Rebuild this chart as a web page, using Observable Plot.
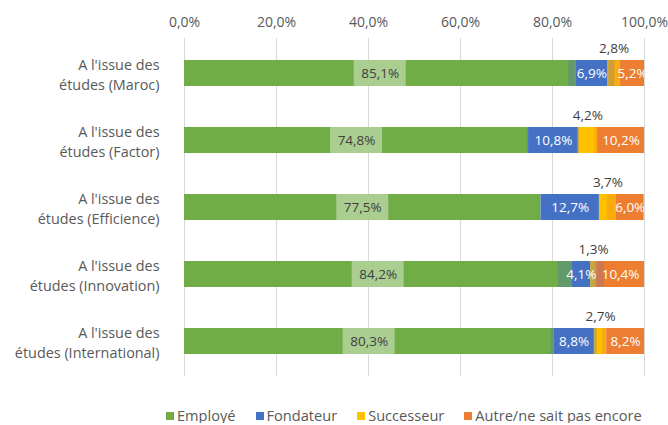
<!DOCTYPE html>
<html>
<head>
<meta charset="utf-8">
<script src="https://cdn.jsdelivr.net/npm/d3@7"></script>
<script src="https://cdn.jsdelivr.net/npm/@observablehq/plot@0.6"></script>
<style>
  body { margin: 0; background: #fff; font-family: "Open Sans", sans-serif; overflow: hidden; }
  #legend { display: flex; gap: 20px; margin-left: 166px; padding-top: 12px; font-size: 14.6px; color: #595959; line-height: 16px; height: 16px; }
  #legend span.sw { display: inline-block; width: 8px; height: 8px; margin-right: 3px; vertical-align: 1px; }
</style>
</head>
<body>
<div id="chart"></div>
<div id="legend"></div>
<script>
const categories = [
  "A l'issue des\nétudes (Maroc)",
  "A l'issue des\nétudes (Factor)",
  "A l'issue des\nétudes (Efficience)",
  "A l'issue des\nétudes (Innovation)",
  "A l'issue des\nétudes (International)"
];
const seriesNames = ["Employé", "Fondateur", "Successeur", "Autre/ne sait pas encore"];
const employe    = [85.1, 74.8, 77.5, 84.2, 80.3];
const fondateur  = [6.9, 10.8, 12.7, 4.1, 8.8];
const successeur = [2.8, 4.2, 3.7, 1.3, 2.7];
const autre      = [5.2, 10.2, 6.0, 10.4, 8.2];
const colors = ["#70ad47", "#4472c4", "#ffc000", "#ed7d31"];
const xTicks = [0, 20, 40, 60, 80, 100];

const fmt = v => v.toFixed(1).replace(".", ",") + "%";
const seriesValues = [employe, fondateur, successeur, autre];

// build stacked rows
const rows = [];
categories.forEach((cat, i) => {
  let acc = 0;
  seriesValues.forEach((vals, j) => {
    const v = vals[i];
    rows.push({cat, series: seriesNames[j], idx: j, value: v, x1: acc, x2: acc + v, mid: acc + v / 2, label: fmt(v)});
    acc += v;
  });
});

const W = 668, ML = 184, MR = 24;
const pxToData = 100 / (W - ML - MR);
const boxHalf = d => (11 + 3 * d.label.length) * pxToData;

const above = rows.filter(d => d.idx === 2);
const greenL = rows.filter(d => d.idx === 0);
const blueL = rows.filter(d => d.idx === 1);
const orangeL = rows.filter(d => d.idx === 3);

const chart = Plot.plot({
  width: W,
  height: 395,
  marginLeft: ML,
  marginRight: MR,
  marginTop: 38,
  marginBottom: 19,
  style: {fontFamily: "Open Sans, sans-serif", fontSize: "13px", color: "#595959", background: "#fff"},
  x: {domain: [0, 100]},
  y: {domain: categories, paddingInner: 0.61, paddingOuter: 0.295},
  color: {domain: seriesNames, range: colors},
  marks: [
    Plot.gridX(xTicks, {stroke: "#d9d9d9", strokeOpacity: 1, strokeWidth: 1}),
    Plot.axisX({anchor: "top", ticks: xTicks, tickFormat: fmt, tickSize: 0, tickPadding: 12, label: null, fontSize: 14, fill: "#595959"}),
    Plot.axisY({tickSize: 0, tickPadding: 25, label: null, fontSize: 14.4, lineHeight: 1.39, fill: "#595959"}),
    Plot.barX(rows, {x1: "x1", x2: "x2", y: "cat", fill: "series"}),
    // label boxes
    Plot.barX(greenL, {x1: d => d.mid - boxHalf(d), x2: d => d.mid + boxHalf(d), y: "cat", fill: "#ffffff", fillOpacity: 0.4}),
    Plot.barX(blueL, {x1: d => d.mid - boxHalf(d), x2: d => d.mid + boxHalf(d), y: "cat", fill: colors[1], fillOpacity: 0.3, clip: true}),
    Plot.barX(orangeL, {x1: d => d.mid - boxHalf(d), x2: d => d.mid + boxHalf(d), y: "cat", fill: colors[3], fillOpacity: 0.3, clip: true}),
    // labels
    Plot.text(greenL, {x: "mid", y: "cat", text: "label", fill: "#404040", fontSize: 13.5}),
    Plot.text(blueL, {x: "mid", y: "cat", text: "label", fill: "#ffffff", fontSize: 13.5, clip: true}),
    Plot.text(orangeL, {x: "mid", y: "cat", text: "label", fill: "#ffffff", fontSize: 13.5, clip: true}),
    Plot.text(above, {x: "mid", y: "cat", text: "label", fill: "#404040", fontSize: 13.5, dy: -25})
  ]
});
document.getElementById("chart").appendChild(chart);

const legend = document.getElementById("legend");
seriesNames.forEach((s, j) => {
  const item = document.createElement("div");
  item.innerHTML = `<span class="sw" style="background:${colors[j]}"></span>${s}`;
  legend.appendChild(item);
});
</script>
</body>
</html>
